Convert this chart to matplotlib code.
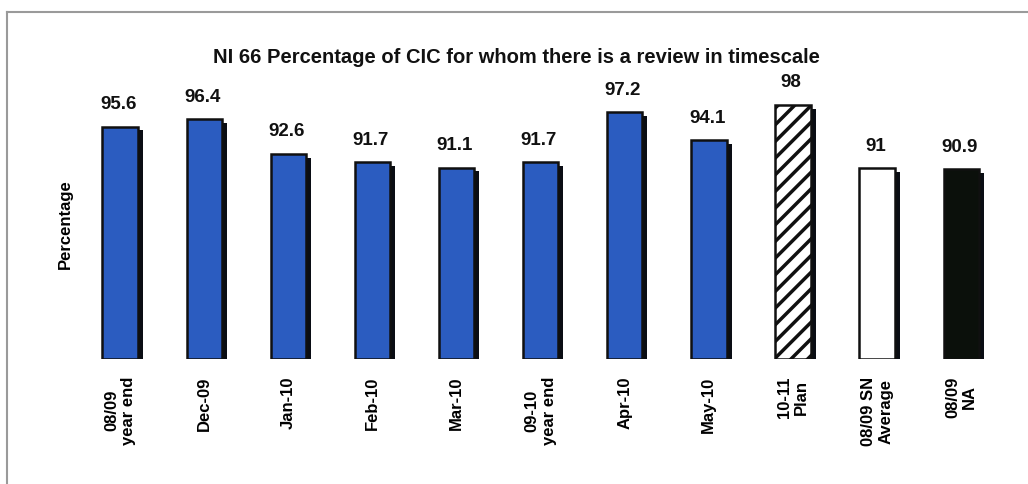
import numpy as np
import matplotlib
matplotlib.use("Agg")
import matplotlib.pyplot as plt
from matplotlib.lines import Line2D

plt.rcParams['font.family'] = ['Liberation Sans Narrow', 'Liberation Sans', 'DejaVu Sans']
plt.rcParams['hatch.linewidth'] = 2.5

labels = ["08/09\nyear end", "Dec-09", "Jan-10", "Feb-10", "Mar-10",
          "09-10\nyear end", "Apr-10", "May-10", "10-11\nPlan",
          "08/09 SN\nAverage", "08/09\nNA"]
values = [95.6, 96.4, 92.6, 91.7, 91.1, 91.7, 97.2, 94.1, 98, 91, 90.9]
value_text = ["95.6", "96.4", "92.6", "91.7", "91.1", "91.7", "97.2", "94.1", "98", "91", "90.9"]

blue = "#2b5cc0"
faces = [blue] * 8 + ["white", "white", "#0b100b"]
hatches = [None] * 8 + ["//", None, None]

base = 70
fig = plt.figure(figsize=(10.28, 4.85), dpi=100)
ax = fig.add_axes([0.0759, 0.258, 0.9, 0.561])

x = np.arange(len(values))
w = 0.42
# shadow behind each bar
ax.bar(x + 0.06, np.array(values) - base - 0.4, bottom=base, width=w,
       color="#0a0d14", zorder=1)
for i, v in enumerate(values):
    ax.bar(x[i], v - base, bottom=base, width=w, color=faces[i],
           edgecolor="#101010", linewidth=1.8, hatch=hatches[i], zorder=2)
    ax.text(x[i] - 0.02, v + 1.6, value_text[i], ha="center", va="bottom",
            fontsize=13.5, fontweight="bold", color="#111111")

ax.set_xlim(-0.5, len(values) - 0.5)
ax.set_ylim(base, 100)
ax.set_xticks(x)
ax.set_xticklabels(labels, rotation=90, fontsize=12, fontweight="bold",
                   va="top", ha="center", multialignment="center")
ax.tick_params(axis="x", length=0, pad=12)
ax.set_yticks([])
for s in ax.spines.values():
    s.set_visible(False)
ax.set_ylabel("Percentage", fontsize=12, fontweight="bold", labelpad=4)

fig.text(0.502, 0.882, "NI 66 Percentage of CIC for whom there is a review in timescale",
         ha="center", va="center", fontsize=14.5, fontweight="bold", color="#111111")

# frame lines (top and left)
fig.lines.append(Line2D([0.007, 1.0], [0.973, 0.973], transform=fig.transFigure,
                        color="#9a9a9a", linewidth=1.5))
fig.lines.append(Line2D([0.007, 0.007], [0.0, 0.973], transform=fig.transFigure,
                        color="#9a9a9a", linewidth=1.5))

fig.savefig("out.png", dpi=100)
